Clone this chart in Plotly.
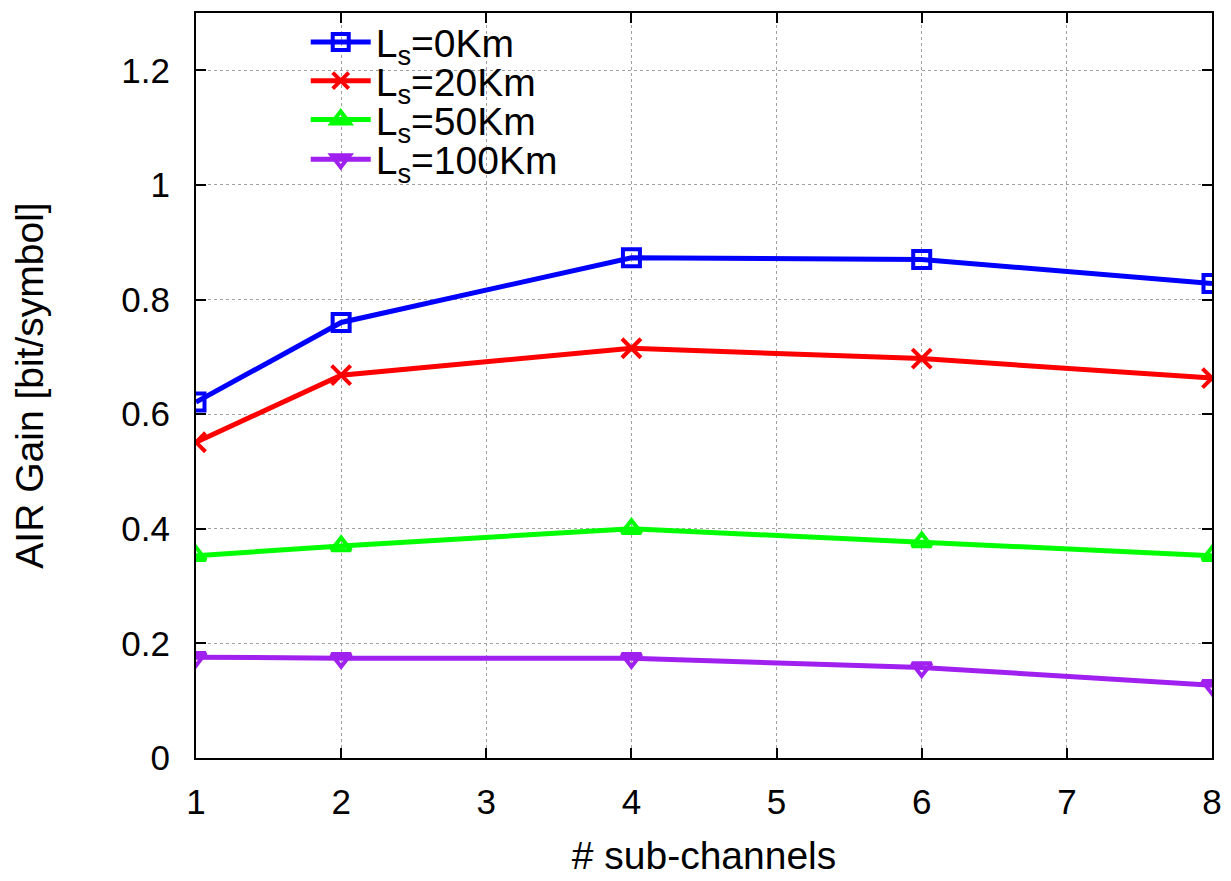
import plotly.graph_objects as go

x_vals = [1, 2, 4, 6, 8]
ls_0 = [0.621, 0.760, 0.873, 0.870, 0.828]
ls_20 = [0.551, 0.668, 0.715, 0.697, 0.663]
ls_50 = [0.353, 0.370, 0.400, 0.377, 0.353]
ls_100 = [0.176, 0.174, 0.174, 0.158, 0.127]

names = ["L<sub>s</sub>=0Km", "L<sub>s</sub>=20Km", "L<sub>s</sub>=50Km", "L<sub>s</sub>=100Km"]
series = [ls_0, ls_20, ls_50, ls_100]
colors = ["#0000ff", "#ff0000", "#00ff00", "#a020f0"]
symbols = ["square-open", "x-thin-open", "triangle-up-open", "triangle-down-open"]
sizes = [17, 19, 17, 17]
legend_ids = ["legend", "legend2", "legend3", "legend4"]
legend_y = [0.961, 0.909, 0.857, 0.8035]

fig = go.Figure()
for nm, ys, c, s, sz, lg in zip(names, series, colors, symbols, sizes, legend_ids):
    fig.add_trace(go.Scatter(
        x=x_vals, y=ys, name=nm, mode="lines+markers", legend=lg,
        line=dict(color=c, width=5),
        marker=dict(symbol=s, size=sz, color=c, line=dict(color=c, width=4)),
    ))

font = "Liberation Sans, Arial, sans-serif"
leg_common = dict(x=0.108, xanchor="left", yanchor="middle",
                  bgcolor="rgba(0,0,0,0)", font=dict(size=39),
                  itemwidth=60)
layout_legends = {}
for lg, ly in zip(legend_ids, legend_y):
    layout_legends[lg] = dict(y=ly, **leg_common)

fig.update_layout(
    width=1231, height=881,
    margin=dict(l=188, r=27, t=2, b=131),
    paper_bgcolor="white", plot_bgcolor="white",
    font=dict(family=font, size=35, color="black"),
    showlegend=True,
    xaxis=dict(
        range=[1, 8], dtick=1, tick0=1,
        showline=True, linecolor="black", linewidth=2, mirror="allticks",
        ticks="inside", ticklen=10, tickwidth=2, tickcolor="black",
        showgrid=True, gridcolor="#a0a0a0", gridwidth=1, griddash="dot",
        zeroline=False,
        title=dict(text="# sub-channels", font=dict(size=39), standoff=22),
        ticklabelstandoff=12,
    ),
    yaxis=dict(
        range=[0, 1.3], tickvals=[0, 0.2, 0.4, 0.6, 0.8, 1.0, 1.2],
        ticktext=["0", "0.2", "0.4", "0.6", "0.8", "1", "1.2"],
        showline=True, linecolor="black", linewidth=2, mirror="allticks",
        ticks="inside", ticklen=10, tickwidth=2, tickcolor="black",
        showgrid=True, gridcolor="#a0a0a0", gridwidth=1, griddash="dot",
        zeroline=False,
        title=dict(text="AIR Gain [bit/symbol]", font=dict(size=39), standoff=80),
        ticklabelstandoff=17,
    ),
    **layout_legends,
)

fig.write_html("out.html")
